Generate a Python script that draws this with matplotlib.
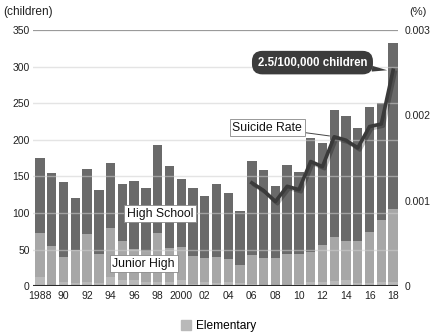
import matplotlib
matplotlib.use('Agg')
import matplotlib.pyplot as plt
import numpy as np
from matplotlib import patheffects as pe
from matplotlib.patches import Patch

plt.rcParams['font.family'] = ['Liberation Sans', 'DejaVu Sans']

years = list(range(1988, 2019))
total = [175, 155, 142, 121, 160, 132, 168, 140, 144, 134, 193, 164, 147, 134, 123, 139,
         127, 103, 171, 159, 137, 165, 156, 203, 196, 241, 233, 216, 245, 251, 332]
junior_plus_elem = [73, 55, 40, 49, 71, 44, 80, 62, 51, 48, 73, 52, 53, 41, 39, 40,
                    37, 29, 43, 38, 38, 44, 44, 46, 56, 67, 62, 61, 74, 90, 105]
elementary = [12, 2, 5, 4, 6, 4, 12, 8, 9, 6, 6, 5, 8, 3, 5, 4,
              5, 4, 3, 2, 2, 1, 3, 5, 5, 7, 8, 4, 4, 6, 5]
rate_years = list(range(2006, 2019))
rate = [0.00121, 0.00112, 0.00099, 0.00117, 0.00113, 0.00146, 0.00140,
        0.00175, 0.00171, 0.00162, 0.00187, 0.00190, 0.00253]
xtick_years = years[::2]
xtick_labels = ['1988', '90', '92', '94', '96', '98', '2000', '02', '04', '06',
                '08', '10', '12', '14', '16', '18']

C_HS = '#6a6a6a'
C_JH = '#a7a7a7'
C_EL = '#b9b9b9'
C_LINE = '#3a3a3a'

x = np.array(years)
el = np.array(elementary)
jhe = np.array(junior_plus_elem)
tot = np.array(total)
junior = jhe - el
high = tot - jhe

fig = plt.figure(figsize=(4.35, 3.35), dpi=100)
ax = fig.add_axes([0.076, 0.146, 0.839, 0.764])
w = 0.8
ax.bar(x, el, width=w, color=C_EL, zorder=2)
ax.bar(x, junior, bottom=el, width=w, color=C_JH, zorder=2)
ax.bar(x, high, bottom=jhe, width=w, color=C_HS, zorder=2)

ax.set_xlim(1987.41, 2018.42)
ax.set_ylim(0, 350)
ax.set_yticks(range(0, 351, 50))
for yv in range(50, 301, 50):
    ax.axhline(yv, color='#cfcfcf', lw=1, alpha=0.55, zorder=3)
ax.axhline(350, color='#9a9a9a', lw=1.6, zorder=3)
ax.axhline(0, color='#2a2a2a', lw=1.5, zorder=4)
for s in ax.spines.values():
    s.set_visible(False)
ax.set_xticks(xtick_years)
ax.set_xticklabels(xtick_labels)
ax.tick_params(axis='y', length=0, labelsize=7.5, pad=2.5, colors='#222222')
ax.tick_params(axis='x', length=0, labelsize=7.5, pad=3.5, colors='#222222')

ax2 = ax.twinx()
ax2.set_ylim(0, 0.003)
ax2.set_yticks([0, 0.001, 0.002, 0.003])
ax2.set_yticklabels(['0', '0.001', '0.002', '0.003'])
ax2.tick_params(axis='y', length=0, labelsize=7.5, pad=5, colors='#222222')
for s in ax2.spines.values():
    s.set_visible(False)

ax2.plot(rate_years, rate, color=C_LINE, lw=2.6, solid_joinstyle='round', zorder=5,
         path_effects=[pe.SimpleLineShadow(offset=(1.5, -1.5), alpha=0.25, shadow_color='k'),
                       pe.Normal()])

def L(v):
    return v * 0.003 / 350

box_w = dict(boxstyle='square,pad=0.22', fc='white', ec='#888888', lw=0.6)
ax2.text(1998.2, L(99), 'High School', ha='center', va='center', fontsize=8.8,
         color='#111111', bbox=box_w, zorder=6)
ax2.text(1996.8, L(30.8), 'Junior High', ha='center', va='center', fontsize=8.8,
         color='#111111', bbox=box_w, zorder=6)
ax2.annotate('Suicide Rate', xy=(2012.6, 0.00176), xytext=(2007.3, L(216.8)),
             ha='center', va='center', fontsize=8.8, color='#111111', bbox=box_w,
             arrowprops=dict(arrowstyle='-', color='#444444', lw=0.7,
                             shrinkA=0, shrinkB=0), zorder=6)
ax2.annotate('2.5/100,000 children', xy=(2017.5, 0.00253), xytext=(2011.15, L(305.6)),
             ha='center', va='center', fontsize=8.3, color='white', fontweight='bold',
             bbox=dict(boxstyle='round,pad=0.5,rounding_size=0.9', fc='#3c3c3c', ec='none'),
             arrowprops=dict(arrowstyle='wedge,tail_width=0.5', fc='#3c3c3c', ec='none',
                             shrinkA=0, shrinkB=0), zorder=7)

fig.text(0.007, 0.964, '(children)', ha='left', va='center', fontsize=8.6, color='#222222')
fig.text(0.96, 0.964, '(%)', ha='center', va='center', fontsize=8, color='#222222')

fig.legend(handles=[Patch(color=C_EL, label='Elementary')], loc='center',
           bbox_to_anchor=(0.503, 0.027), frameon=False, fontsize=8.6,
           handlelength=0.85, handleheight=0.85, handletextpad=0.4)

fig.savefig('out.png', dpi=100)
